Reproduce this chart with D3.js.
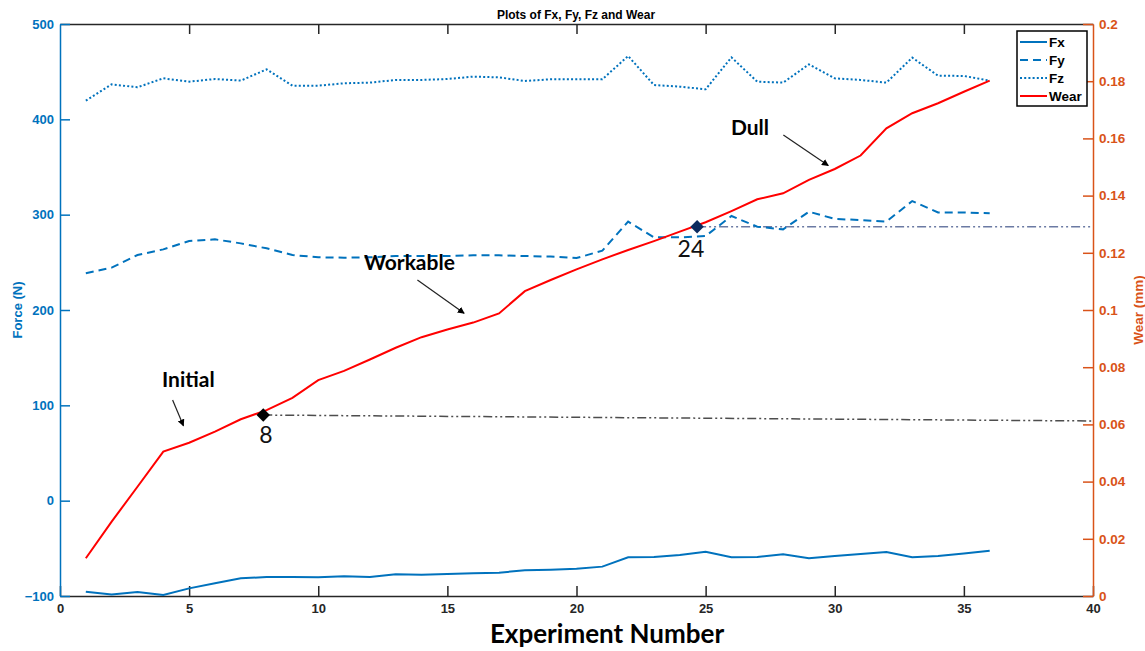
<!DOCTYPE html>
<html><head><meta charset="utf-8">
<script src="https://cdn.jsdelivr.net/npm/d3@7"></script>
<style>body{margin:0;background:#fff}svg{display:block}</style>
</head><body>
<svg id="c" width="1145" height="651"></svg>
<script>
const experiments = [1,2,3,4,5,6,7,8,9,10,11,12,13,14,15,16,17,18,19,20,21,22,23,24,25,26,27,28,29,30,31,32,33,34,35,36];
const fx = [-95.5,-98.3,-95.8,-99,-92,-86.7,-81.5,-80.1,-80.1,-80.4,-79.4,-80.1,-77.3,-77.7,-76.9,-76.2,-75.5,-73.1,-72.4,-71.3,-69.2,-59.4,-59.1,-57,-53.5,-59.4,-59.1,-56.3,-60.5,-58.1,-56,-53.9,-59.4,-58.1,-55.3,-52.5];
const fy = [238.5,244.4,257.7,263.6,272.4,274.1,269.9,264.7,257.7,255.3,254.9,255.3,256.6,256.6,256.6,257.3,257.3,256.6,256,254.5,262.2,292.7,276.2,276.2,277.6,298.6,287.4,284.6,303.1,295.5,294.4,292.7,314.3,302.4,302.4,301.4];
const fz = [419.6,436.7,433.6,443,439.5,442.3,440.6,452.4,435.3,435.3,437.8,438.5,441.3,441.3,442.3,444.8,444,440.2,442,442,442,466.4,436,434.3,431.5,465,439.5,438.5,457.7,443,441.3,438.5,464.7,445.8,445.5,440.6];
const wear = [0.0132,0.026,0.0382,0.0505,0.0536,0.0575,0.0618,0.065,0.0693,0.0755,0.0787,0.0827,0.0868,0.0905,0.0932,0.0956,0.0988,0.1066,0.1105,0.1142,0.1177,0.121,0.1241,0.1274,0.1307,0.1346,0.1387,0.1408,0.1455,0.1493,0.154,0.1635,0.1688,0.1723,0.1763,0.1802];
const xTicks = [0,5,10,15,20,25,30,35,40];
const forceTicks = [-100,0,100,200,300,400,500];
const wearTicks = [0,0.02,0.04,0.06,0.08,0.1,0.12,0.14,0.16,0.18,0.2];
const seriesNames = ["Fx","Fy","Fz","Wear"];
const markers = [{x:7.87,f:89.8,label:"8",lx:7.97,lf:60.5,end:83.6,color:"#000000",lineColor:"#4d4d4d"},
                 {x:24.67,f:287.4,label:"24",lx:24.43,lf:255.6,end:287.4,color:"#0b2a5e",lineColor:"#6b7aa3"}];
const notes = [{text:"Initial",x:3.95,f:119,ax1:4.36,af1:105.6,ax2:4.78,af2:78.5},
               {text:"Workable",x:11.77,f:241.9,ax1:13.84,af1:231.5,ax2:15.65,af2:196.5},
               {text:"Dull",x:25.98,f:383.6,ax1:28.01,af1:383.6,ax2:29.75,af2:351.5}];

const svg = d3.select("#c");
const x = d3.scaleLinear([0,40],[60,1093]);
const yF = d3.scaleLinear([-100,500],[596,24]);
const yW = d3.scaleLinear([0,0.2],[596,24]);
const BLUE="#0072BD", ORANGE="#D95319", DARK="#262626";

svg.append("defs").append("marker").attr("id","ah").attr("viewBox","0 0 10 10")
  .attr("refX",9).attr("refY",5).attr("markerWidth",7).attr("markerHeight",7)
  .attr("orient","auto").attr("markerUnits","userSpaceOnUse")
  .append("path").attr("d","M0,0 L10,5 L0,10 z").attr("fill","#000");

// top & bottom axes
const gb = svg.append("g").attr("transform","translate(0,596)")
  .call(d3.axisBottom(x).tickValues(xTicks).tickSizeInner(-10).tickSizeOuter(0).tickPadding(8).tickFormat(d3.format("d")));
gb.select(".domain").attr("stroke",DARK).attr("stroke-width",1.5);
gb.selectAll(".tick line").attr("stroke",DARK).attr("stroke-width",1.5);
gb.selectAll(".tick text").attr("fill",DARK).attr("font-family","Liberation Sans, Arial, sans-serif").attr("font-weight","bold").attr("font-size",13);
const gt = svg.append("g").attr("transform","translate(0,24)")
  .call(d3.axisTop(x).tickValues(xTicks.slice(1,-1)).tickSizeInner(-10).tickSizeOuter(0).tickFormat(""));
gt.select(".domain").attr("stroke",DARK).attr("stroke-width",1.5);
gt.selectAll(".tick line").attr("stroke",DARK).attr("stroke-width",1.5);

const gl = svg.append("g").attr("transform","translate(60,0)")
  .call(d3.axisLeft(yF).tickValues(forceTicks).tickSizeInner(-10).tickSizeOuter(0).tickPadding(6));
gl.select(".domain").attr("stroke",BLUE).attr("stroke-width",1.5);
gl.selectAll(".tick line").attr("stroke",BLUE).attr("stroke-width",1.5);
gl.selectAll(".tick text").attr("fill",BLUE).attr("font-family","Liberation Sans, Arial, sans-serif").attr("font-weight","bold").attr("font-size",13);

const gr = svg.append("g").attr("transform","translate(1093,0)")
  .call(d3.axisRight(yW).tickValues(wearTicks).tickSizeInner(-10).tickSizeOuter(0).tickPadding(6).tickFormat(d=>String(+d.toFixed(2))));
gr.select(".domain").attr("stroke",ORANGE).attr("stroke-width",1.5);
gr.selectAll(".tick line").attr("stroke",ORANGE).attr("stroke-width",1.5);
gr.selectAll(".tick text").attr("fill",ORANGE).attr("font-family","Liberation Sans, Arial, sans-serif").attr("font-weight","bold").attr("font-size",13.5);

// titles
svg.append("text").attr("x",576).attr("y",19).attr("text-anchor","middle")
  .attr("font-family","Liberation Sans, Arial, sans-serif").attr("font-weight","bold").attr("font-size",12).attr("fill","#000")
  .text("Plots of Fx, Fy, Fz and Wear");
svg.append("text").attr("transform","translate(22,310) rotate(-90)").attr("text-anchor","middle")
  .attr("font-family","Liberation Sans, Arial, sans-serif").attr("font-weight","bold").attr("font-size",13).attr("fill",BLUE).text("Force (N)");
svg.append("text").attr("transform","translate(1143,310) rotate(-90)").attr("text-anchor","middle")
  .attr("font-family","Liberation Sans, Arial, sans-serif").attr("font-weight","bold").attr("font-size",13.5).attr("fill",ORANGE).text("Wear (mm)");
svg.append("text").attr("x",607).attr("y",643).attr("text-anchor","middle")
  .attr("font-family","Lato, sans-serif").attr("font-weight","bold").attr("font-size",26).attr("fill","#000").text("Experiment Number");

// threshold lines
svg.selectAll(".thr").data(markers).join("line")
  .attr("x1",d=>x(d.x)).attr("y1",d=>yF(d.f)).attr("x2",x(40)).attr("y2",d=>yF(d.end))
  .attr("stroke",d=>d.lineColor).attr("stroke-width",1.5).attr("stroke-dasharray","9,3,2,3,2,3");

// series
const lineF = arr => d3.line().x((d,i)=>x(experiments[i])).y(d=>yF(d))(arr);
svg.append("path").attr("d",lineF(fx)).attr("fill","none").attr("stroke",BLUE).attr("stroke-width",2);
svg.append("path").attr("d",lineF(fy)).attr("fill","none").attr("stroke",BLUE).attr("stroke-width",2).attr("stroke-dasharray","8,5");
svg.append("path").attr("d",lineF(fz)).attr("fill","none").attr("stroke",BLUE).attr("stroke-width",2).attr("stroke-dasharray","2,2.2");
svg.append("path").attr("d",d3.line().x((d,i)=>x(experiments[i])).y(d=>yW(d))(wear)).attr("fill","none").attr("stroke","#FF0000").attr("stroke-width",2);

// markers
svg.selectAll(".mk").data(markers).join("path")
  .attr("d",d3.symbol(d3.symbolSquare,90)())
  .attr("transform",d=>`translate(${x(d.x)},${yF(d.f)}) rotate(45)`).attr("fill",d=>d.color);
svg.selectAll(".mkl").data(markers).join("text")
  .attr("x",d=>x(d.lx)).attr("y",d=>yF(d.lf)).attr("text-anchor","middle")
  .attr("font-family","Lato, sans-serif").attr("font-size",23).attr("fill","#111").text(d=>d.label);

// notes
svg.selectAll(".nt").data(notes).join("text")
  .attr("x",d=>x(d.x)).attr("y",d=>yF(d.f))
  .attr("font-family","Lato, sans-serif").attr("font-weight","bold").attr("font-size",21).attr("fill","#000").text(d=>d.text);
svg.selectAll(".na").data(notes).join("line")
  .attr("x1",d=>x(d.ax1)).attr("y1",d=>yF(d.af1)).attr("x2",d=>x(d.ax2)).attr("y2",d=>yF(d.af2))
  .attr("stroke","#222").attr("stroke-width",1.2).attr("marker-end","url(#ah)");

// legend
const lg = svg.append("g").attr("transform","translate(1017,31)");
lg.append("rect").attr("width",70).attr("height",75).attr("fill","#fff").attr("stroke","#000").attr("stroke-width",1.5);
const dashes = [null,"8,5","2,2.2",null];
const cols = [BLUE,BLUE,BLUE,"#FF0000"];
seriesNames.forEach((n,i)=>{
  const yy = 11 + i*18;
  lg.append("line").attr("x1",3).attr("x2",30).attr("y1",yy).attr("y2",yy)
    .attr("stroke",cols[i]).attr("stroke-width",2).attr("stroke-dasharray",dashes[i]);
  lg.append("text").attr("x",32).attr("y",yy+5).attr("font-family","Liberation Sans, Arial, sans-serif")
    .attr("font-weight","bold").attr("font-size",13.5).attr("fill","#000").text(n);
});
</script>
</body></html>
